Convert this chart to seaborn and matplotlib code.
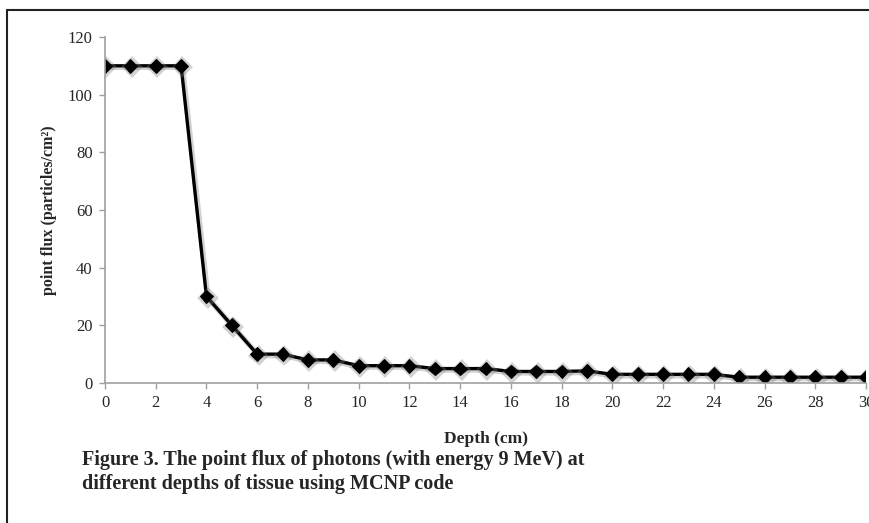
import numpy as np
import pandas as pd
import matplotlib
matplotlib.use("Agg")
import matplotlib.pyplot as plt
import matplotlib.patheffects as pe
import seaborn as sns

# values
depth = list(range(0, 31))
flux = [110, 110, 110, 110, 30, 20, 10, 10, 8, 8,
        6, 6, 6, 5, 5, 5, 4, 4, 4, 4.2,
        3, 3, 3, 3, 3, 2, 2, 2, 2, 2, 2]
x_ticks = list(range(0, 31, 2))
y_ticks = [0, 20, 40, 60, 80, 100, 120]

df = pd.DataFrame({"Depth": depth, "Flux": flux})

sns.set_style("white")
plt.rcParams["font.family"] = ["Liberation Serif", "DejaVu Serif"]

fig = plt.figure(figsize=(8.7, 5.23), dpi=100)
ax = fig.add_axes([0.1207, 0.2677, 0.8747, 0.6616])

shadow = [pe.SimpleLineShadow(offset=(1, -1), shadow_color="gray", alpha=0.35, linewidth=4),
          pe.Normal()]
sns.lineplot(data=df, x="Depth", y="Flux", ax=ax, color="black", linewidth=2.4,
             marker="D", markersize=7, markeredgecolor="black", markerfacecolor="black",
             path_effects=shadow)

ax.set_xlim(0, 30)
ax.set_ylim(0, 120)
ax.set_xticks(x_ticks)
ax.set_yticks(y_ticks)
ax.tick_params(axis="both", direction="out", length=4, width=1, color="#a0a0a0",
               labelsize=12, pad=5, bottom=True, left=True)
for s in ["top", "right"]:
    ax.spines[s].set_visible(False)
for s in ["left", "bottom"]:
    ax.spines[s].set_color("#a0a0a0")
    ax.spines[s].set_linewidth(1.2)

ax.set_xlabel("Depth (cm)", fontsize=12.5, fontweight="bold", labelpad=14)
ax.set_ylabel("point flux (particles/cm²)", fontsize=11.5, fontweight="bold", labelpad=8)

fig.text(0.094, 1 - 450 / 523, "Figure 3. The point flux of photons (with energy 9 MeV) at\n"
         "different depths of tissue using MCNP code",
         fontsize=14.5, fontweight="bold", ha="left", va="top", linespacing=1.3)

# outer frame (top and left edges visible in the reference)
fig.add_artist(plt.Line2D([0.008, 0.008], [0, 0.981], transform=fig.transFigure, color="#222222", lw=1.5))
fig.add_artist(plt.Line2D([0.008, 1.0], [0.981, 0.981], transform=fig.transFigure, color="#222222", lw=1.5))

fig.savefig("out.png", dpi=100)
